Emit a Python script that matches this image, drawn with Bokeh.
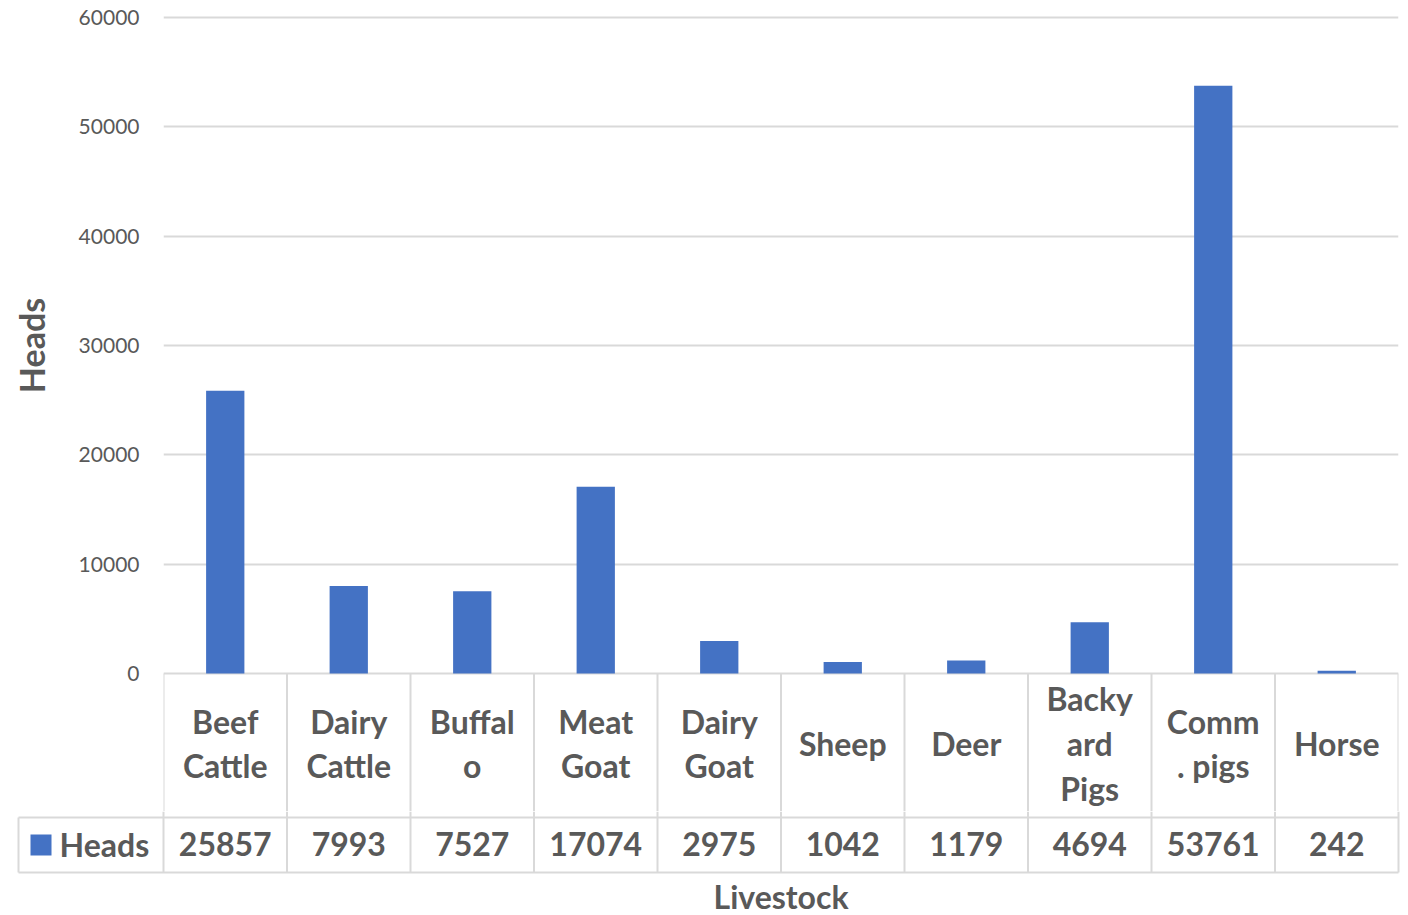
import math
import numpy as np
from bokeh.plotting import figure
from bokeh.layouts import column, row
from bokeh.models import Range1d, FixedTicker, ColumnDataSource
from bokeh.core.properties import value
from bokeh.embed import file_html
from bokeh.resources import INLINE

# ---- data ----
categories = ["Beef Cattle", "Dairy Cattle", "Buffalo", "Meat Goat", "Dairy Goat",
              "Sheep", "Deer", "Backyard Pigs", "Comm. pigs", "Horse"]
cat_labels = ["Beef\nCattle", "Dairy\nCattle", "Buffal\no", "Meat\nGoat", "Dairy\nGoat",
              "Sheep", "Deer", "Backy\nard\nPigs", "Comm\n. pigs", "Horse"]
heads = [25857, 7993, 7527, 17074, 2975, 1042, 1179, 4694, 53761, 242]
y_ticks = [0, 10000, 20000, 30000, 40000, 50000, 60000]
series_name = "Heads"
x_title = "Livestock"
y_title = "Heads"

BAR = "#4472C4"
TXT = "#595959"
GRID = "#d9d9d9"
FONT = "Lato"

n = len(categories)
xs = np.arange(n) + 0.5

W = 1400
H = 915
frame_left = 163               # page x of the first category column
frame_right_px = 1398          # page x of the table's right edge
frame_w = frame_right_px - frame_left
u_per_px_x = n / frame_w

zero_px = 673          # pixel row of value 0
top_px = 17            # pixel row of 60000
row1 = 144             # bottom of category row (px below zero line)
row2 = 199             # bottom of value row
split = zero_px + row1 - 6   # where the top figures end
px_per_unit_y = (zero_px - top_px) / 60000
y_start = -(split - zero_px) / px_per_unit_y
y_end = 60000 + top_px / px_per_unit_y

lw = 2
vx = list(range(n + 1))

A_W = 66   # strip on the left holding the y title

# ---- left strip: y-axis title ----
a = figure(width=A_W, height=split, output_backend="svg", toolbar_location=None,
           x_range=Range1d(0, A_W), y_range=Range1d(0, split),
           min_border_left=0, min_border_right=0, min_border_top=0, min_border_bottom=0)
a.frame_align = False
a.outline_line_color = None
a.background_fill_color = "white"
a.border_fill_color = "white"
a.axis.visible = False
a.grid.visible = False
a.text(x=[30.5], y=[split - (zero_px + top_px) / 2], text=[y_title], angle=math.pi / 2,
       text_align="center", text_baseline="middle",
       text_font=value(FONT), text_font_style="bold", text_font_size="34px", text_color=TXT)

# ---- top chart (with the category row of the data table) ----
p = figure(width=W - A_W, height=split, output_backend="svg", toolbar_location=None,
           x_range=Range1d(0, n), y_range=Range1d(y_start, y_end),
           min_border_left=frame_left - A_W, min_border_right=W - frame_right_px,
           min_border_top=0, min_border_bottom=0)
p.frame_align = False
p.outline_line_color = None
p.background_fill_color = "white"
p.border_fill_color = "white"
p.xaxis.visible = False
p.xgrid.visible = False
p.ygrid.ticker = FixedTicker(ticks=y_ticks)
p.ygrid.grid_line_color = GRID
p.ygrid.grid_line_width = 1.8
p.yaxis.ticker = FixedTicker(ticks=y_ticks)
p.yaxis.axis_line_color = None
p.yaxis.major_tick_line_color = None
p.yaxis.minor_tick_line_color = None
p.yaxis.major_tick_out = 0
p.yaxis.major_tick_in = 0
p.yaxis.major_label_standoff = 24
p.yaxis.major_label_text_font = FONT
p.yaxis.major_label_text_font_size = "21px"
p.yaxis.major_label_text_color = TXT

# column separators of the category row
p.segment(x0=vx, x1=vx, y0=[0] * len(vx), y1=[y_start] * len(vx),
          line_color=GRID, line_width=lw)

src = ColumnDataSource(dict(x=xs, top=heads, name=categories))
p.vbar(x="x", top="top", bottom=0, width=0.31, source=src,
       fill_color=BAR, line_color=None)

cat_y = -(row1 / 2 - 2) / px_per_unit_y
p.text(x=xs, y=[cat_y] * n, text=cat_labels, text_align="center", text_baseline="middle",
       text_font=value(FONT), text_font_style="bold", text_font_size="32px",
       text_color=TXT, text_line_height=1.15)

# ---- bottom: value row, legend key, x title ----
bot_h = H - split
bx0 = -frame_left * u_per_px_x
bx1 = n + (W - frame_right_px) * u_per_px_x
q = figure(width=W, height=bot_h, output_backend="svg", toolbar_location=None,
           x_range=Range1d(bx0, bx1), y_range=Range1d(H - zero_px, split - zero_px),
           min_border_left=0, min_border_right=0, min_border_top=0, min_border_bottom=0)
q.frame_align = False
q.outline_line_color = None
q.background_fill_color = "white"
q.border_fill_color = "white"
q.axis.visible = False
q.grid.visible = False

legend_left = -145 * u_per_px_x

q.segment(x0=[legend_left, legend_left], x1=[n, n], y0=[row1, row2], y1=[row1, row2],
          line_color=GRID, line_width=lw)
q.segment(x0=vx, x1=vx, y0=[split - zero_px] * len(vx), y1=[row2] * len(vx),
          line_color=GRID, line_width=lw)
q.segment(x0=[legend_left], x1=[legend_left], y0=[row1], y1=[row2], line_color=GRID, line_width=lw)

vy = (row1 + row2) / 2 - 1
q.text(x=xs, y=[vy] * n, text=[str(v) for v in heads],
       text_align="center", text_baseline="middle",
       text_font=value(FONT), text_font_style="bold", text_font_size="32px", text_color=TXT)
q.rect(x=[legend_left + 22.5 * u_per_px_x], y=[(row1 + row2) / 2], width=21, height=21,
       width_units="screen", height_units="screen", fill_color=BAR, line_color=None)
q.text(x=[legend_left + 41 * u_per_px_x], y=[vy], text=[series_name],
       text_align="left", text_baseline="middle",
       text_font=value(FONT), text_font_style="bold", text_font_size="32px", text_color=TXT)
q.text(x=[n / 2], y=[896 - zero_px], text=[x_title], text_align="center",
       text_baseline="middle",
       text_font=value(FONT), text_font_style="bold", text_font_size="32px", text_color=TXT)

layout = column(row(a, p, spacing=0), q, spacing=0)
open("out.html", "w").write(file_html(layout, INLINE))
